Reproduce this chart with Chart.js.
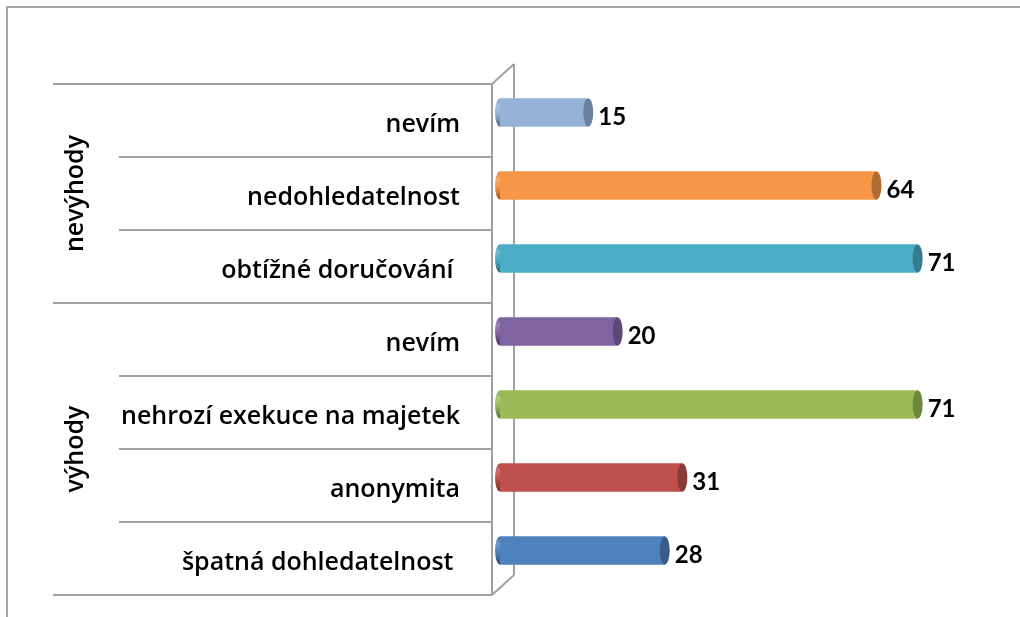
<!DOCTYPE html>
<html>
<head>
    <meta charset="utf-8">
    <title>Výhody a nevýhody</title>
    <script src="https://cdn.jsdelivr.net/npm/chart.js"></script>
    <style>
        body {
            margin: 0;
            background-color: white;
        }
        #frame {
            position: absolute;
            left: 6px;
            top: 6px;
            width: 1030px;
            height: 640px;
            border: 2px solid #a6a6a6;
        }
        #wrap {
            position: absolute;
            left: 0;
            top: 0;
            width: 1020px;
            height: 617px;
        }
    </style>
</head>
<body>
    <div id="frame"></div>
    <div id="wrap"><canvas id="chart"></canvas></div>

    <script>
        // top to bottom
        const categories = ['nevím', 'nedohledatelnost', 'obtížné doručování ', 'nevím', 'nehrozí exekuce na majetek', 'anonymita', 'špatná dohledatelnost '];
        const values = [15, 64, 71, 20, 71, 31, 28];
        const barColors = ['#95b3d7', '#f79646', '#4bacc6', '#8064a2', '#9bbb59', '#c0504d', '#4f81bd'];
        const groups = ['nevýhody', 'výhody'];
        const groupSizes = [3, 4];

        const FONT = '"Open Sans", "DejaVu Sans", sans-serif';
        const LABEL_FONT = '600 25px ' + FONT;
        const DX_FRONT = -8, DY_FRONT = 8;   // front edge of the 3D floor
        const DX_BACK = 14, DY_BACK = -12;   // back wall

        function shade(hex, f) {
            let r = parseInt(hex.slice(1, 3), 16), g = parseInt(hex.slice(3, 5), 16), b = parseInt(hex.slice(5, 7), 16);
            if (f < 1) { r *= f; g *= f; b *= f; }
            else { r += (255 - r) * (f - 1); g += (255 - g) * (f - 1); b += (255 - b) * (f - 1); }
            return `rgb(${Math.round(r)},${Math.round(g)},${Math.round(b)})`;
        }

        function cylGradient(ctx, color, top, bottom) {
            const g = ctx.createLinearGradient(0, top, 0, bottom);
            g.addColorStop(0, shade(color, 0.88));
            g.addColorStop(0.25, shade(color, 1.2));
            g.addColorStop(0.55, color);
            g.addColorStop(1, shade(color, 0.58));
            return g;
        }

        // wall, separators, category and group labels
        const wallPlugin = {
            id: 'wall',
            beforeDatasetsDraw(chart) {
                const ctx = chart.ctx;
                const ys = chart.scales.y;
                const left = chart.chartArea.left;
                const n = categories.length;
                const step = (ys.bottom - ys.top) / n;
                const xf = left + DX_FRONT, xb = left + DX_BACK;
                ctx.save();
                ctx.strokeStyle = '#a0a0a0';
                ctx.lineWidth = 2;
                ctx.beginPath();
                // back wall line
                ctx.moveTo(xb, ys.top + DY_BACK);
                ctx.lineTo(xb, ys.bottom + DY_BACK);
                // front edge
                ctx.moveTo(xf, ys.top + DY_FRONT);
                ctx.lineTo(xf, ys.bottom + DY_FRONT);
                // diagonals
                ctx.moveTo(xf, ys.top + DY_FRONT);
                ctx.lineTo(xb, ys.top + DY_BACK);
                ctx.moveTo(xf, ys.bottom + DY_FRONT);
                ctx.lineTo(xb, ys.bottom + DY_BACK);
                // separators
                const groupEdges = [0];
                groupSizes.forEach(s => groupEdges.push(groupEdges[groupEdges.length - 1] + s));
                for (let k = 0; k <= n; k++) {
                    const y = ys.top + k * step + DY_FRONT;
                    const x0 = groupEdges.includes(k) ? 53 : 119;
                    ctx.moveTo(x0, y);
                    ctx.lineTo(xf, y);
                }
                ctx.stroke();

                ctx.fillStyle = '#000';
                ctx.font = LABEL_FONT;
                ctx.textBaseline = 'alphabetic';
                // category labels
                ctx.textAlign = 'right';
                categories.forEach((c, i) => {
                    ctx.fillText(c, left - 40, ys.getPixelForValue(i) + 19);
                });
                // group labels
                ctx.textAlign = 'center';
                groups.forEach((g, i) => {
                    const yc = ys.top + (groupEdges[i] + groupEdges[i + 1]) / 2 * step + DY_FRONT;
                    ctx.save();
                    ctx.translate(83, yc);
                    ctx.rotate(-Math.PI / 2);
                    ctx.fillText(g, 0, 0);
                    ctx.restore();
                });
                ctx.restore();
            }
        };

        // cylinder caps and value labels
        const cylPlugin = {
            id: 'cyl',
            afterDatasetsDraw(chart) {
                const ctx = chart.ctx;
                const meta = chart.getDatasetMeta(0);
                ctx.save();
                meta.data.forEach((bar, i) => {
                    const h = bar.height / 2;
                    const rx = 5;
                    const col = barColors[i];
                    // left rounded end
                    ctx.beginPath();
                    ctx.ellipse(bar.base, bar.y, rx, h, 0, Math.PI / 2, Math.PI * 1.5);
                    ctx.fillStyle = cylGradient(ctx, col, bar.y - h, bar.y + h);
                    ctx.fill();
                    // right end face
                    ctx.beginPath();
                    ctx.ellipse(bar.x, bar.y, rx, h, 0, 0, Math.PI * 2);
                    ctx.fillStyle = shade(col, 0.72);
                    ctx.fill();
                    // value
                    ctx.fillStyle = '#000';
                    ctx.font = 'bold 24px Lato, ' + FONT;
                    ctx.textAlign = 'left';
                    ctx.textBaseline = 'alphabetic';
                    ctx.fillText(values[i], bar.x + 10, bar.y + 12);
                });
                ctx.restore();
            }
        };

        const ctx = document.getElementById('chart').getContext('2d');
        new Chart(ctx, {
            type: 'bar',
            data: {
                labels: categories,
                datasets: [{
                    data: values,
                    backgroundColor: c => {
                        const el = c.element;
                        const col = barColors[c.dataIndex];
                        if (!el || el.height == null) return col;
                        return cylGradient(c.chart.ctx, col, el.y - el.height / 2, el.y + el.height / 2);
                    },
                    borderWidth: 0,
                    barThickness: 28
                }]
            },
            plugins: [wallPlugin, cylPlugin],
            options: {
                indexAxis: 'y',
                responsive: true,
                maintainAspectRatio: false,
                animation: false,
                layout: {
                    padding: { top: 76, bottom: 30, left: 0, right: 20 }
                },
                scales: {
                    x: {
                        display: false,
                        min: 0,
                        max: 85
                    },
                    y: {
                        grid: { display: false, drawTicks: false },
                        border: { display: false },
                        afterFit: s => { s.width = 500; },
                        ticks: { display: false }
                    }
                },
                plugins: {
                    legend: { display: false },
                    tooltip: { enabled: false }
                }
            }
        });
    </script>
</body>
</html>
